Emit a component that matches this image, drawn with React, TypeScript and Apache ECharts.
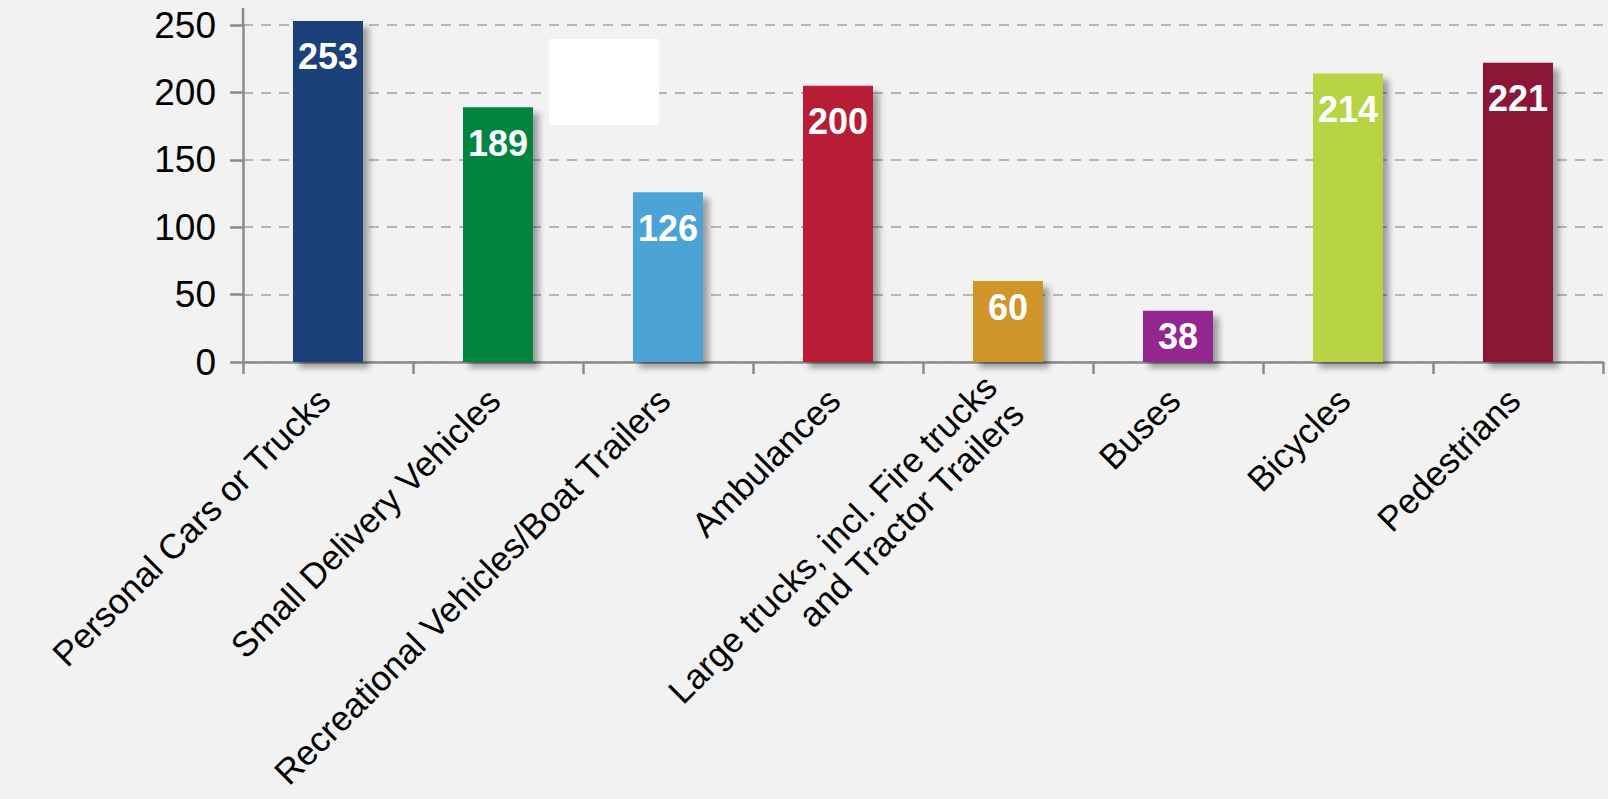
import React, { useEffect, useRef } from "react";
import * as echarts from "echarts";

const categories = [
  "Personal Cars or Trucks",
  "Small Delivery Vehicles",
  "Recreational Vehicles/Boat Trailers",
  "Ambulances",
  "Large trucks, incl. Fire trucks\nand Tractor Trailers",
  "Buses",
  "Bicycles",
  "Pedestrians",
];
const barValues = [253, 189, 126, 205, 60, 38, 214, 222];
const valueLabels = ["253", "189", "126", "200", "60", "38", "214", "221"];
const barColors = [
  "#1f3f7a",
  "#038541",
  "#4ba3d6",
  "#b91f35",
  "#d0962a",
  "#93278f",
  "#b8d444",
  "#8c1335",
];
const yMin = 0;
const yMax = 250;
const yInterval = 50;

const AXIS_COLOR = "#8a8a8a";
const FONT = '"Liberation Sans", Arial, sans-serif';

export default function App() {
  const ref = useRef<HTMLDivElement>(null);
  useEffect(() => {
    if (!ref.current) return;
    const chart = echarts.init(ref.current, null, { renderer: "svg" });
    const option = {
      animation: false,
      backgroundColor: "#f2f2f2",
      grid: {
        left: 243,
        right: 5,
        top: 25,
        bottom: 437,
        containLabel: false,
        outerBoundsMode: "none",
      },
      xAxis: {
        type: "category",
        data: categories,
        boundaryGap: true,
        axisLine: { show: true, lineStyle: { color: AXIS_COLOR, width: 2.5 } },
        axisTick: { show: true, length: 12, alignWithLabel: false, lineStyle: { color: AXIS_COLOR, width: 2.5 } },
        axisLabel: {
          interval: 0,
          rotate: 45,
          margin: 28,
          padding: [0, 6, 0, 0],
          color: "#000",
          fontFamily: FONT,
          fontSize: 35,
          lineHeight: 38,
          hideOverlap: false,
        },
        splitLine: { show: false },
      },
      yAxis: {
        type: "value",
        min: yMin,
        max: yMax,
        interval: yInterval,
        axisLine: { show: true, lineStyle: { color: AXIS_COLOR, width: 2.5 } },
        axisTick: { show: true, length: 13, inside: false, lineStyle: { color: AXIS_COLOR, width: 2.5 } },
        axisLabel: {
          margin: 27,
          color: "#000",
          fontFamily: FONT,
          fontSize: 37,
        },
        splitLine: {
          show: true,
          lineStyle: { color: "#a3a3a3", width: 1.5, type: [10, 8] },
        },
      },
      series: [
        {
          type: "bar",
          clip: false,
          barWidth: 70,
          data: barValues.map((v, i) => ({
            value: v,
            itemStyle: { color: barColors[i] },
            label: { distance: v < 100 ? 8 : 18 },
          })),
          itemStyle: {
            shadowColor: "rgba(0,0,0,0.35)",
            shadowBlur: 6,
            shadowOffsetX: 6,
            shadowOffsetY: 6,
          },
          label: {
            show: true,
            position: "insideTop",
            color: "#fff",
            fontWeight: "bold",
            fontFamily: FONT,
            fontSize: 36,
            formatter: (p: any) => valueLabels[p.dataIndex],
          },
        },
      ],
      graphic: [
        {
          type: "line",
          shape: { x1: 243, y1: 8, x2: 243, y2: 25 },
          style: { stroke: AXIS_COLOR, lineWidth: 2.5 },
          z: 10,
        },
        {
          type: "rect",
          shape: { x: 549, y: 39, width: 110, height: 86 },
          style: { fill: "#ffffff" },
          z: 10,
        },
      ],
    };
    chart.setOption(option);
    return () => chart.dispose();
  }, []);
  return (
    <div
      ref={ref}
      style={{ position: "absolute", left: 0, top: 0, width: 1608, height: 799 }}
    />
  );
}
